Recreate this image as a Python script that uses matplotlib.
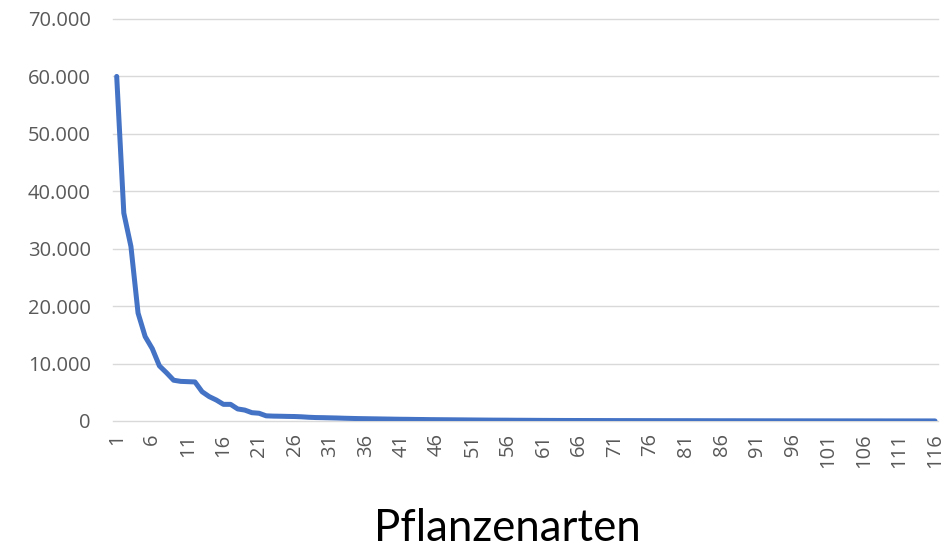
import matplotlib
matplotlib.use("Agg")
import matplotlib.pyplot as plt
from matplotlib.ticker import FuncFormatter

# Werte (Pflanzenart 1..116)
arten = list(range(1, 117))
werte = [
    60000, 36200, 30400, 18800, 14700, 12600, 9600, 8400, 7100, 6900,
    6850, 6800, 5100, 4250, 3650, 2900, 2900, 2100, 1900, 1450,
    1350, 900, 850, 830, 800, 780, 730, 650, 600, 580,
    550, 520, 480, 450, 420, 400, 380, 360, 340, 320,
    300, 290, 270, 260, 240, 230, 220, 210, 200, 190,
    180, 170, 160, 150, 145, 140, 130, 125, 120, 110,
    105, 100, 95, 90, 88, 85, 82, 80, 78, 75,
    72, 70, 68, 66, 64, 62, 60, 58, 56, 55,
    54, 52, 50, 48, 46, 45, 44, 42, 40, 38,
    36, 35, 34, 32, 30, 30, 29, 28, 27, 26,
    25, 24, 23, 22, 21, 20, 20, 19, 18, 17,
    16, 15, 14, 13, 12, 10,
]
x_ticks = list(range(1, 117, 5))
y_ticks = list(range(0, 70001, 10000))
x_titel = "Pflanzenarten"

grau = "#595959"
gitter = "#D9D9D9"
blau = "#4472C4"

fig = plt.figure(figsize=(9.52, 5.49), dpi=100)
ax = fig.add_axes([113 / 952, 1 - 421 / 549, 825 / 952, 402 / 549])

ax.plot(arten, werte, color=blau, lw=3.6, solid_capstyle="round",
        solid_joinstyle="round", zorder=3)

ax.set_xlim(0.48, 116.42)
ax.set_ylim(0, 70000)
ax.set_xticks(x_ticks)
ax.set_yticks(y_ticks)
ax.yaxis.set_major_formatter(FuncFormatter(lambda v, p: f"{v:,.0f}".replace(",", ".")))

for s in ax.spines.values():
    s.set_visible(False)
ax.grid(axis="y", color=gitter, lw=1.0, zorder=0)
ax.set_axisbelow(True)
for gl in ax.get_ygridlines():
    gl.set_clip_on(False)

ax.tick_params(axis="y", length=0, pad=16, labelsize=14.5, labelcolor=grau)
ax.tick_params(axis="x", length=0, pad=9, labelsize=14.5, labelcolor=grau,
               labelrotation=90)
for lab in ax.get_xticklabels() + ax.get_yticklabels():
    lab.set_fontfamily("Open Sans")

fig.text(507 / 952, 1 - 541 / 549, x_titel, ha="center", va="baseline",
         fontsize=31.5, family="Lato", color="black")

fig.savefig("out.png", dpi=100)
